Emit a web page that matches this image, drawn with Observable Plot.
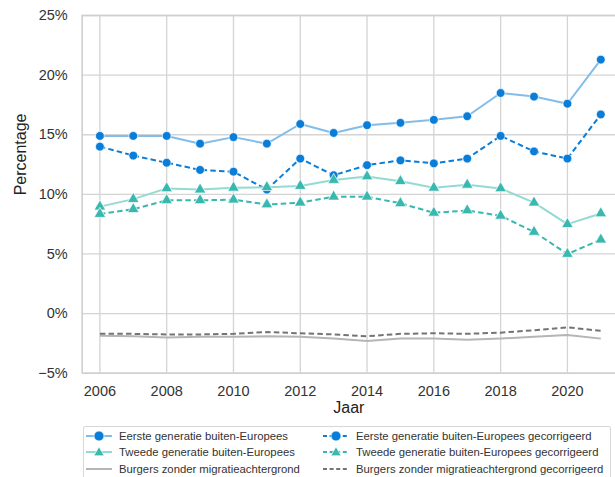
<!DOCTYPE html>
<html>
<head>
<meta charset="utf-8">
<script src="https://cdn.jsdelivr.net/npm/d3@7"></script>
<script src="https://cdn.jsdelivr.net/npm/@observablehq/plot@0.6"></script>
<style>
  html, body { margin: 0; padding: 0; background: #fff; }
  #wrap { position: relative; width: 615px; height: 477px; overflow: hidden; font-family: "Liberation Sans", Arial, sans-serif; }
  #legend { position: absolute; left: 83px; top: 426px; width: 528px; height: 60px; border: 1px solid #d8d8d8; border-radius: 2px; box-sizing: border-box; background: #fff; }
  .item { position: absolute; display: flex; align-items: center; font-size: 11.3px; color: #333; white-space: nowrap; height: 14px; }
  .item svg { margin-right: 6px; }
</style>
</head>
<body>
<div id="wrap"><div id="chart"></div><div id="legend"></div></div>
<script>
const years = [2006, 2007, 2008, 2009, 2010, 2011, 2012, 2013, 2014, 2015, 2016, 2017, 2018, 2019, 2020, 2021];
const eerste      = [14.9, 14.9, 14.9, 14.25, 14.8, 14.25, 15.9, 15.15, 15.8, 16.0, 16.25, 16.55, 18.5, 18.2, 17.6, 21.3];
const eersteCorr  = [14.0, 13.25, 12.65, 12.05, 11.9, 10.4, 13.0, 11.6, 12.45, 12.85, 12.6, 13.0, 14.9, 13.6, 13.0, 16.7];
const tweede      = [8.97, 9.6, 10.5, 10.4, 10.55, 10.6, 10.7, 11.2, 11.5, 11.1, 10.55, 10.8, 10.5, 9.3, 7.5, 8.4];
const tweedeCorr  = [8.35, 8.75, 9.5, 9.5, 9.55, 9.15, 9.3, 9.8, 9.8, 9.25, 8.45, 8.65, 8.2, 6.85, 5.0, 6.2];
const burgers     = [-1.85, -1.9, -2.0, -1.95, -1.95, -1.9, -1.95, -2.1, -2.3, -2.1, -2.1, -2.2, -2.1, -1.95, -1.8, -2.1];
const burgersCorr = [-1.7, -1.7, -1.75, -1.75, -1.7, -1.55, -1.65, -1.75, -1.9, -1.7, -1.65, -1.7, -1.6, -1.4, -1.15, -1.45];

const seriesNames = [
  "Eerste generatie buiten-Europees",
  "Eerste generatie buiten-Europees gecorrigeerd",
  "Tweede generatie buiten-Europees",
  "Tweede generatie buiten-Europees gecorrigeerd",
  "Burgers zonder migratieachtergrond",
  "Burgers zonder migratieachtergrond gecorrigeerd"
];
const seriesValues = [eerste, eersteCorr, tweede, tweedeCorr, burgers, burgersCorr];
const xTicks = [2006, 2008, 2010, 2012, 2014, 2016, 2018, 2020];
const yTicks = [-5, 0, 5, 10, 15, 20, 25];

const BLUE = "#0a7dd8", BLUE_L = "#82bde9", TEAL = "#38b8ae", TEAL_L = "#93dad3", GREY_L = "#b5b5b5", GREY_D = "#747474";
const styles = [
  {line: BLUE_L, dash: null, marker: "circle", fill: BLUE},
  {line: BLUE, dash: "5.5,3.2", marker: "circle", fill: BLUE},
  {line: TEAL_L, dash: null, marker: "triangle", fill: TEAL},
  {line: TEAL, dash: "5.5,3.2", marker: "triangle", fill: TEAL},
  {line: GREY_L, dash: null, marker: null, fill: null},
  {line: GREY_D, dash: "5.5,3.2", marker: null, fill: null}
];

const tables = seriesValues.map((vals, i) => years.map((y, j) => ({year: y, value: vals[j], series: seriesNames[i]})));

const marks = [
  Plot.ruleX(xTicks, {stroke: "#d4d4d4", strokeWidth: 1.3}),
  Plot.ruleY(yTicks, {stroke: "#d4d4d4", strokeWidth: 1.3}),
  Plot.ruleX([2005.47], {stroke: "#cfcfcf", strokeWidth: 1.6}),
  Plot.ruleY([-5, 25], {stroke: "#cfcfcf", strokeWidth: 1.6}),
  Plot.axisX(xTicks, {tickSize: 0, tickPadding: 13, fontSize: 14.5, tickFormat: d => String(d), label: null, fill: "#333"}),
  Plot.axisY(yTicks, {tickSize: 0, tickPadding: 14.5, fontSize: 14.5, tickFormat: d => (d < 0 ? "\u2212" : "") + Math.abs(d) + "%", label: null, fill: "#333"}),
  Plot.text(["Jaar"], {frameAnchor: "bottom", dy: 39.5, fontSize: 16, fill: "#222"}),
  Plot.text(["Percentage"], {frameAnchor: "left", dx: -61.5, dy: 1, rotate: -90, fontSize: 16, fill: "#222"})
];
[4, 5, 0, 1, 2, 3].forEach(i => {
  const s = styles[i];
  marks.push(Plot.line(tables[i], {x: "year", y: "value", stroke: s.line, strokeWidth: 2, strokeDasharray: s.dash, strokeLinecap: "butt"}));
  if (s.marker) {
    marks.push(Plot.dot(tables[i], {x: "year", y: "value", symbol: s.marker, r: s.marker === "circle" ? 4.4 : 4.3, fill: s.fill, stroke: "#fff", strokeWidth: 0.7}));
  }
});

const chart = Plot.plot({
  width: 615,
  height: 420,
  marginLeft: 81.7,
  marginRight: 0,
  marginTop: 15,
  marginBottom: 47.3,
  style: {fontFamily: "'Liberation Sans', Arial, sans-serif", background: "#fff"},
  x: {domain: [2005.47, 2021.44]},
  y: {domain: [-5, 25]},
  marks
});
document.getElementById("chart").appendChild(chart);

// Legend
const legend = document.getElementById("legend");
const legendOrder = [0, 2, 4, 1, 3, 5];
legendOrder.forEach((i, k) => {
  const col = Math.floor(k / 3), row = k % 3;
  const s = styles[i];
  const div = document.createElement("div");
  div.className = "item";
  div.style.left = (col === 0 ? 1 : 238) + "px";
  div.style.top = (2 + row * 16.3) + "px";
  const ns = "http://www.w3.org/2000/svg";
  const svg = document.createElementNS(ns, "svg");
  svg.setAttribute("width", 28);
  svg.setAttribute("height", 14);
  const ln = document.createElementNS(ns, "line");
  ln.setAttribute("x1", 1); ln.setAttribute("x2", 27); ln.setAttribute("y1", 7); ln.setAttribute("y2", 7);
  ln.setAttribute("stroke", s.line); ln.setAttribute("stroke-width", 2);
  if (s.dash) ln.setAttribute("stroke-dasharray", "4,2.6");
  svg.appendChild(ln);
  if (s.marker === "circle") {
    const c = document.createElementNS(ns, "circle");
    c.setAttribute("cx", 14); c.setAttribute("cy", 7); c.setAttribute("r", 5);
    c.setAttribute("fill", s.fill); c.setAttribute("stroke", "#fff"); c.setAttribute("stroke-width", 0.7);
    svg.appendChild(c);
  } else if (s.marker === "triangle") {
    const p = document.createElementNS(ns, "path");
    p.setAttribute("d", "M14,1.8 L19.2,10.8 L8.8,10.8 Z");
    p.setAttribute("fill", s.fill); p.setAttribute("stroke", "#fff"); p.setAttribute("stroke-width", 0.7);
    svg.appendChild(p);
  }
  div.appendChild(svg);
  const span = document.createElement("span");
  span.textContent = seriesNames[i];
  div.appendChild(span);
  legend.appendChild(div);
});
</script>
</body>
</html>
